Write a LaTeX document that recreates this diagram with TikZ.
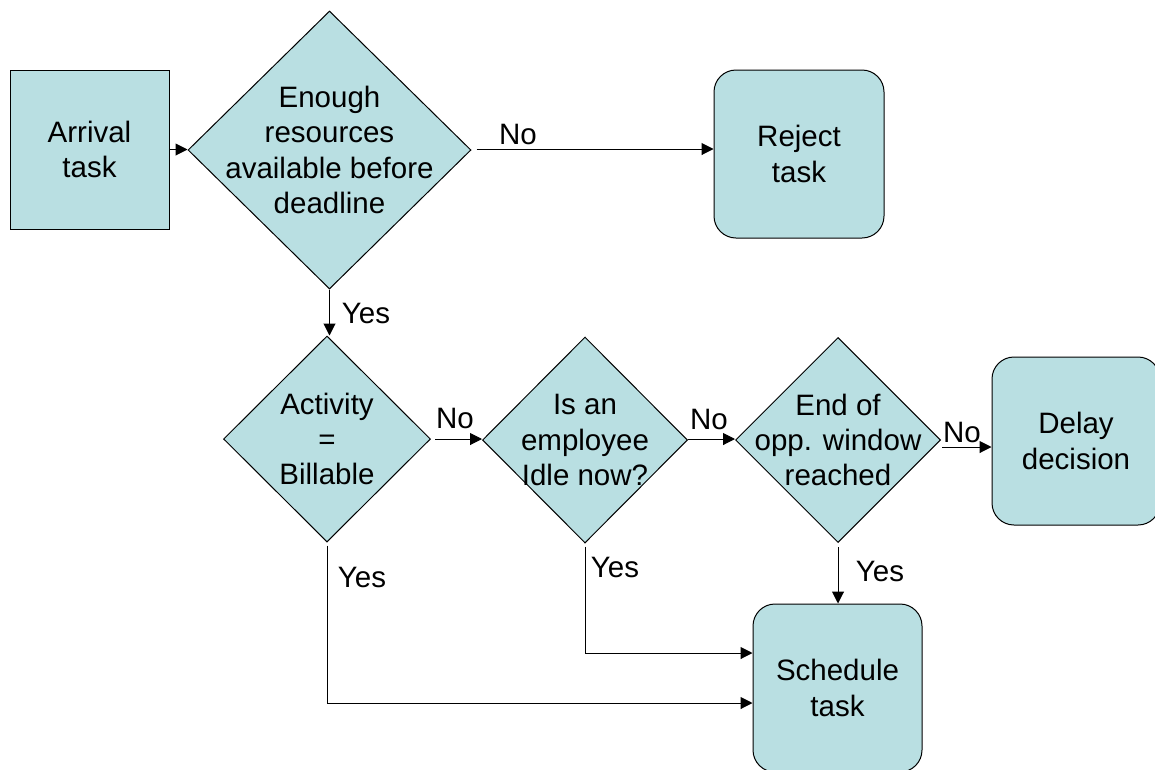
\documentclass[tikz,border=0pt]{standalone}
\usepackage{fontspec}
\setmainfont{Liberation Sans}
\usetikzlibrary{shapes.geometric,arrows.meta}
\definecolor{boxfill}{RGB}{185,223,226}
\begin{document}
\begin{tikzpicture}[x=1pt,y=-1pt,
  every node/.style={font=\fontsize{29.5}{35.4}\selectfont},
  sqbox/.style={draw=black,line width=1pt,fill=boxfill,inner sep=0pt,align=center},
  rbox/.style={sqbox,rounded corners=22pt},
  dia/.style={diamond,draw=black,line width=1pt,fill=boxfill,inner sep=0pt},
  txt/.style={align=center,inner sep=0pt},
  lbl/.style={inner sep=0pt},
  arr/.style={draw=black,line width=1pt,-{Triangle[length=12pt,width=12pt]}},
  ln/.style={draw=black,line width=1pt}]
\useasboundingbox (0,0) rectangle (1155,769);

\node[sqbox,minimum width=159pt,minimum height=159pt] (arrival) at (89.5,149.5) {Arrival\\task};
\node[dia,minimum width=283pt,minimum height=278pt] (d1) at (329.5,150) {};
\node[txt] (d1t) at (d1.center) {Enough\\resources\\available before\\deadline};
\node[rbox,minimum width=170pt,minimum height=168pt] (reject) at (799,154) {Reject\\task};

\node[dia,minimum width=207pt,minimum height=206pt] (d2) at (327,439) {};
\node[txt] (d2t) at (d2.center) {Activity\\=\\Billable};
\node[dia,minimum width=205pt,minimum height=206pt] (d3) at (585,440) {};
\node[txt] (d3t) at (d3.center) {Is an\\employee\\Idle now?};
\node[dia,minimum width=205pt,minimum height=205pt] (d4) at (838,440) {};
\node[txt] (d4t) at (d4.center) {End of\\opp. window\\reached};
\node[rbox,minimum width=168pt,minimum height=168pt] (delay) at (1076,441) {Delay\\decision};
\node[rbox,minimum width=169pt,minimum height=168pt] (sched) at (837.5,688) {Schedule\\task};

% connectors
\draw[arr] (arrival.east) -- (arrival.east -| d1.west);
\draw[arr,shorten <=5pt] ([yshift=1pt]d1.east) -- ([yshift=1pt]d1.east -| reject.west);
\node[lbl] (l1) at (518,134) {No};
\draw[arr] (d1.south) -- (d1.south |- d2.north);
\node[lbl] (l2) at (366,313) {Yes};
\draw[arr,shorten <=4pt] (d2.east) -- (d2.east -| d3.west);
\node[lbl] (l3) at (455,418) {No};
\draw[arr] ([yshift=1pt]d3.east) -- ([yshift=1pt]d3.east -| d4.west);
\node[lbl] (l4) at (709,419) {No};
\draw[arr,shorten <=1pt] ([yshift=-7pt]d4.east) -- ([yshift=-7pt]d4.east -| delay.west);
\node[lbl] (l5) at (962,432) {No};
\draw[arr,shorten <=4pt] (d4.south) -- (d4.south |- sched.north);
\node[lbl] (l6) at (880,571) {Yes};
\draw[arr,shorten <=3pt] (d3.south) |- ([yshift=35pt]sched.west);
\node[lbl] (l7) at (615,567) {Yes};
\draw[arr,shorten <=3pt] (d2.south) |- ([yshift=-15pt]sched.west);
\node[lbl] (l8) at (362,577) {Yes};
\end{tikzpicture}
\end{document}
